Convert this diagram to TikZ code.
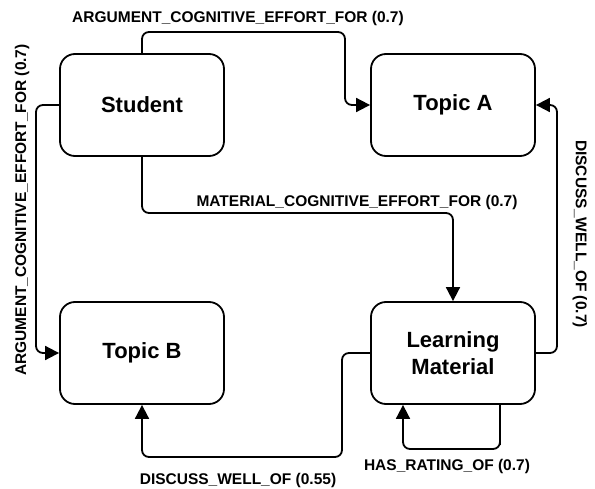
\documentclass[tikz,border=0pt]{standalone}
\usepackage{fontspec}
\setmainfont{Liberation Sans}
\usetikzlibrary{arrows.meta}

\begin{document}
\begin{tikzpicture}[x=1pt,y=-1pt,
    box/.style={draw,line width=1.8pt,rounded corners=15pt,minimum width=164pt,minimum height=102pt,
      align=center,font=\fontsize{22}{27}\selectfont\bfseries},
    rel/.style={draw,line width=1.8pt,rounded corners=7pt,-{Triangle[length=14pt,width=14pt]}},
    lbl/.style={font=\fontsize{15.5}{17}\selectfont\bfseries,inner sep=0pt}]
    \useasboundingbox (0,0) rectangle (595,489);
    \node[box] (student) at (142,105) {Student};
    \node[box] (topicA) at (453,105) {Topic A};
    \node[box] (topicB) at (142,353) {Topic B};
    \node[box] (material) at (453,353) {Learning\\Material};
    \coordinate (c1) at (345,32);
    \coordinate (c2) at (36,200);
    \coordinate (c3) at (300,213);
    \coordinate (c4) at (557,230);
    \coordinate (c5) at (342,457);
    \coordinate (c6) at (500,449);
    \draw [rel] (student.north) |- (c1) |- (topicA.west);
    \draw [rel] (student.west) -| (c2) |- (topicB.west);
    \draw [rel] (student.south) |- (c3) -| (material.north);
    \draw [rel] (material.east) -| (c4) |- (topicA.east);
    \draw [rel] (material.west) -| (c5) -| (topicB.south);
    \draw [rel] ([xshift=47pt]material.south) |- (c6) -| ([xshift=-50pt]material.south);
    \node[lbl] (l1) at (238,18) {ARGUMENT\_COGNITIVE\_EFFORT\_FOR (0.7)};
    \node[lbl,rotate=90] (l2) at (22,210) {ARGUMENT\_COGNITIVE\_EFFORT\_FOR (0.7)};
    \node[lbl] (l3) at (357,202) {MATERIAL\_COGNITIVE\_EFFORT\_FOR (0.7)};
    \node[lbl,rotate=-90] (l4) at (580,234) {DISCUSS\_WELL\_OF (0.7)};
    \node[lbl] (l5) at (238,480) {DISCUSS\_WELL\_OF (0.55)};
    \node[lbl] (l6) at (447,466) {HAS\_RATING\_OF (0.7)};
\end{tikzpicture}
\end{document}
